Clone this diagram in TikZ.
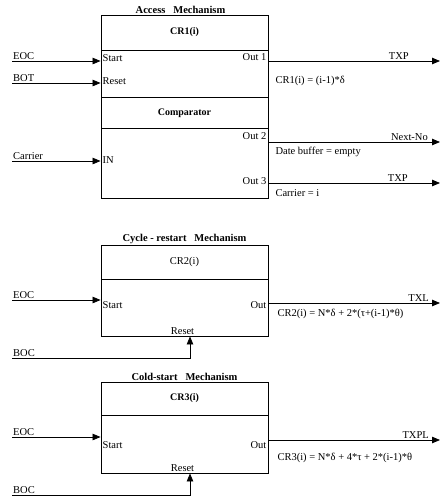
\documentclass[tikz,border=0pt]{standalone}
\usepackage{fontspec}
\setmainfont{Liberation Serif}
\usetikzlibrary{arrows.meta,positioning}

\begin{document}
\begin{tikzpicture}[
    x=1pt,y=-1pt,
    font=\fontsize{10.5}{12}\selectfont,
    blocco/.style={draw,line width=0.9pt,minimum width=167pt,inner sep=0pt},
    divisore/.style={line width=0.9pt},
    freccia/.style={line width=0.8pt,-{Triangle[length=8pt,width=6.5pt]}},
    titolo/.style={font=\fontsize{10.5}{12}\selectfont\bfseries,anchor=south,inner sep=1pt},
    intestazione/.style={font=\fontsize{10}{12}\selectfont\bfseries},
    segnale/.style={anchor=south west,inner sep=1pt},
    uscita/.style={anchor=south east,inner sep=1pt},
    porta/.style={inner sep=1.5pt}]

  \useasboundingbox (0,0) rectangle (443,504);

  % ---- meccanismo di accesso ------------------------------------------------
  \node[blocco,minimum height=183pt] (acc) at (184.5,106.5) {};
  \node[titolo] (tacc) at ([xshift=-4pt]acc.north) {Access\ \ \ Mechanism};
  \draw[divisore] (101,50) -- (268,50);
  \draw[divisore] (101,97) -- (268,97);
  \draw[divisore] (101,128) -- (268,128);
  \node[intestazione] (cr1) at (184.5,32.5) {CR1(i)};
  \node[intestazione] (cmp) at (184.5,113) {Comparator};

  \node[porta,anchor=west] (start1) at (101,58) {Start};
  \node[porta,anchor=west] (reset1) at (101,81) {Reset};
  \node[porta,anchor=west] (in1) at (101,160) {IN};
  \node[porta,anchor=east] (out1) at (268,57) {Out 1};
  \node[porta,anchor=east] (out2) at (268,136) {Out 2};
  \node[porta,anchor=east] (out3) at (268,181) {Out 3};

  \coordinate (eoc1) at (12,61);
  \coordinate (bot1) at (12,83);
  \coordinate (car1) at (12,161);
  \coordinate (txp1) at (440,61);
  \coordinate (nxt1) at (440,142);
  \coordinate (txp3) at (440,183);

  \draw[freccia] (eoc1) -- (eoc1 -| acc.west);
  \draw[freccia] (bot1) -- (bot1 -| acc.west);
  \draw[freccia] (car1) -- (car1 -| acc.west);
  \draw[freccia] (txp1 -| acc.east) -- (txp1);
  \draw[freccia] (nxt1 -| acc.east) -- (nxt1);
  \draw[freccia] (txp3 -| acc.east) -- (txp3);

  \node[segnale] at (eoc1) {EOC};
  \node[segnale] at (bot1) {BOT};
  \node[segnale] at (car1) {Carrier};
  \node[uscita] at ([xshift=-30pt]txp1) {TXP};
  \node[uscita] at ([xshift=-11pt]nxt1) {Next-No};
  \node[uscita] at ([xshift=-31pt]txp3) {TXP};
  \node[anchor=west] (f1) at (272,81) {CR1(i) = (i-1)*δ};
  \node[anchor=west] (f2) at (272,152) {Date buffer = empty};
  \node[anchor=west] (f3) at (272,193) {Carrier = i};

  % ---- meccanismo di riavvio del ciclo ----------------------------------------
  \node[blocco,minimum height=91pt] (cyc) at (184.5,290.5) {};
  \node[titolo] (tcyc) at (cyc.north) {Cycle - restart\ \ \ Mechanism};
  \draw[divisore] (101,279) -- (268,279);
  \node (cr2) at (184.5,262) {CR2(i)};
  \node[porta,anchor=west] (start2) at (101,305) {Start};
  \node[porta,anchor=east] (outc) at (268,305) {Out};
  \node[porta,anchor=south] (reset2) at ([xshift=-2pt]cyc.south) {Reset};

  \coordinate (eoc2) at (12,300);
  \coordinate (boc2) at (12,358);
  \coordinate (txl) at (440,303);
  \draw[freccia] (eoc2) -- (eoc2 -| cyc.west);
  \draw[freccia] (boc2) -| ([xshift=5.5pt]cyc.south);
  \draw[freccia] (txl -| cyc.east) -- (txl);
  \node[segnale] at (eoc2) {EOC};
  \node[segnale] at (boc2) {BOC};
  \node[uscita] at ([xshift=-10pt]txl) {TXL};
  \node[anchor=west] (f4) at (274,314) {CR2(i) = N*δ + 2*(τ+(i-1)*θ)};

  % ---- meccanismo di avvio a freddo ----------------------------------------
  \node[blocco,minimum height=91pt] (cold) at (184.5,427.5) {};
  \node[titolo] (tcold) at (cold.north) {Cold-start\ \ \ Mechanism};
  \draw[divisore] (101,415) -- (268,415);
  \node[intestazione] (cr3) at (184.5,398.5) {CR3(i)};
  \node[porta,anchor=west] (start3) at (101,445) {Start};
  \node[porta,anchor=east] (outf) at (268,445) {Out};
  \node[porta,anchor=south] (reset3) at ([xshift=-2pt]cold.south) {Reset};

  \coordinate (eoc3) at (12,437);
  \coordinate (boc3) at (12,495);
  \coordinate (txpl) at (440,440);
  \draw[freccia] (eoc3) -- (eoc3 -| cold.west);
  \draw[freccia] (boc3) -| ([xshift=5.5pt]cold.south);
  \draw[freccia] (txpl -| cold.east) -- (txpl);
  \node[segnale] at (eoc3) {EOC};
  \node[segnale] at (boc3) {BOC};
  \node[uscita] at ([xshift=-10pt]txpl) {TXPL};
  \node[anchor=west] (f5) at (274,458) {CR3(i) = N*δ + 4*τ + 2*(i-1)*θ};

\end{tikzpicture}
\end{document}
